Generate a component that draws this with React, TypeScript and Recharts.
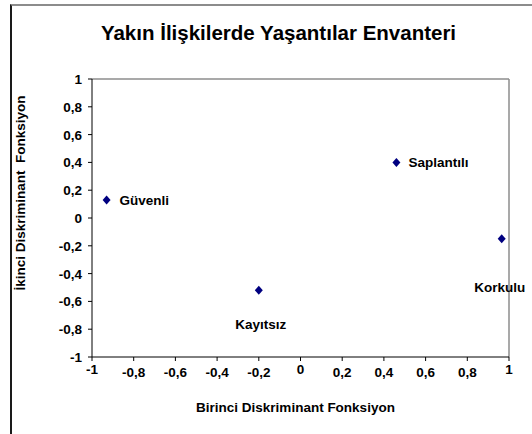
import { ScatterChart, Scatter, XAxis, YAxis, ReferenceLine, Label } from "recharts";

const groupNames = ["Güvenli", "Kayıtsız", "Saplantılı", "Korkulu"];
const firstFunction = [-0.93, -0.2, 0.46, 0.965];
const secondFunction = [0.13, -0.52, 0.4, -0.15];
const axisTicks = [-1, -0.8, -0.6, -0.4, -0.2, 0, 0.2, 0.4, 0.6, 0.8, 1];

// where each data label sits relative to its marker (Excel-style manual placement)
const labelPlacement: Record<string, { dx: number; dy: number; anchor: string }> = {
  "Güvenli": { dx: 13, dy: 0, anchor: "start" },
  "Kayıtsız": { dx: 2, dy: 34, anchor: "middle" },
  "Saplantılı": { dx: 12, dy: 0, anchor: "start" },
  "Korkulu": { dx: -2, dy: 48, anchor: "middle" },
};

const points = groupNames.map((name, i) => ({ name, x: firstFunction[i], y: secondFunction[i] }));

const FONT = '"Liberation Sans", Arial, sans-serif';
const fmt = (v: number) => String(Math.round(v * 10) / 10).replace(".", ",");

function XTick({ x, y, payload }: any) {
  const label = fmt(payload.value);
  const lift = label.includes(",") ? 0 : -3;
  return (
    <text x={x} y={y + 16 + lift} textAnchor="middle" fontFamily={FONT} fontSize={13.5} fontWeight="bold" fill="#000">
      {label}
    </text>
  );
}

function YTick({ x, y, payload }: any) {
  return (
    <text x={x} y={y + 5} textAnchor="end" fontFamily={FONT} fontSize={13.5} fontWeight="bold" fill="#000">
      {fmt(payload.value)}
    </text>
  );
}

function Diamond({ cx, cy, payload }: any) {
  const p = labelPlacement[payload.name];
  return (
    <g>
      <polygon points={`${cx},${cy - 4.5} ${cx + 4},${cy} ${cx},${cy + 4.5} ${cx - 4},${cy}`} fill="#000080" />
      <text x={cx + p.dx} y={cy + p.dy + 5} textAnchor={p.anchor} fontFamily={FONT} fontSize={13.5} fontWeight="bold" fill="#000">
        {payload.name}
      </text>
    </g>
  );
}

export default function App() {
  return (
    <div style={{ position: "relative", width: 532, height: 434, fontFamily: FONT }}>
      <style>{`body{margin:0}`}</style>
      <div
        style={{
          position: "absolute",
          left: 10,
          top: 4,
          width: 522,
          height: 430,
          borderTop: "2px solid #8c8c8c",
          borderLeft: "2px solid #1a1a1a",
          boxSizing: "border-box",
        }}
      />
      <div
        style={{
          position: "absolute",
          left: 25,
          top: 21,
          width: 507,
          textAlign: "center",
          fontSize: 20.5,
          lineHeight: "24px",
          fontWeight: "bold",
          color: "#000",
        }}
      >
        Yakın İlişkilerde Yaşantılar Envanteri
      </div>
      <div style={{ position: "absolute", left: 0, top: 0 }}>
        <ScatterChart width={532} height={434} margin={{ top: 79, right: 23, bottom: 27, left: 12 }}>
          <XAxis
            type="number"
            dataKey="x"
            domain={[-1, 1]}
            ticks={axisTicks}
            interval={0}
            height={50}
            tickSize={4}
            tickMargin={0}
            axisLine={{ stroke: "#000", strokeWidth: 1 }}
            tickLine={{ stroke: "#000" }}
            tick={<XTick />}
          >
            <Label
              content={({ viewBox }: any) => (
                <text
                  x={viewBox.x + viewBox.width / 2 - 5}
                  y={viewBox.y + 55}
                  textAnchor="middle"
                  fontFamily={FONT}
                  fontSize={13.5}
                  fontWeight="bold"
                  fill="#000"
                >
                  Birinci Diskriminant Fonksiyon
                </text>
              )}
            />
          </XAxis>
          <YAxis
            type="number"
            dataKey="y"
            domain={[-1, 1]}
            ticks={axisTicks}
            interval={0}
            width={80}
            tickSize={4}
            tickMargin={6}
            axisLine={{ stroke: "#000", strokeWidth: 1 }}
            tickLine={{ stroke: "#000" }}
            tick={<YTick />}
          >
            <Label
              content={({ viewBox }: any) => {
                const cx = 25;
                const cy = viewBox.y + viewBox.height / 2 - 25;
                return (
                  <text
                    x={cx}
                    y={cy}
                    transform={`rotate(-90 ${cx} ${cy})`}
                    textAnchor="middle"
                    fontFamily={FONT}
                    fontSize={13.5}
                    fontWeight="bold"
                    fill="#000"
                    style={{ whiteSpace: "pre" }}
                  >
                    {"İkinci Diskriminant  Fonksiyon"}
                  </text>
                );
              }}
            />
          </YAxis>
          <ReferenceLine y={1} stroke="#8c8c8c" strokeWidth={1.5} />
          <ReferenceLine x={1} stroke="#8c8c8c" strokeWidth={1.5} />
          <Scatter data={points} shape={<Diamond />} isAnimationActive={false} />
        </ScatterChart>
      </div>
    </div>
  );
}
